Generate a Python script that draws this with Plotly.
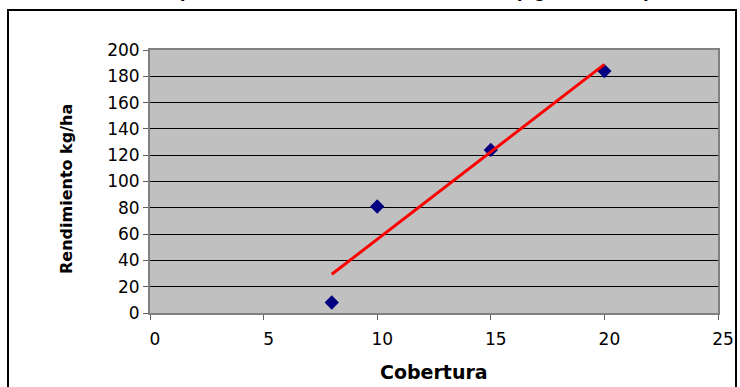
import numpy as np
import plotly.graph_objects as go

# Cobertura (x) y rendimiento en kg/ha (y)
cobertura = [8, 10, 15, 20]
rendimiento = [8, 81, 124, 184]

x_ticks = [0, 5, 10, 15, 20, 25]
y_ticks = [0, 20, 40, 60, 80, 100, 120, 140, 160, 180, 200]

# linear trend over the observed range
slope, intercept = np.polyfit(cobertura, rendimiento, 1)
trend_x = [min(cobertura), max(cobertura)]
trend_y = [slope * v + intercept for v in trend_x]

W, H = 740, 387
L, R, T, B = 150, 22, 50, 74
pw, ph = W - L - R, H - T - B


def px_to_paper_x(px):
    return (px - L) / pw


def px_to_paper_y(py):
    return (H - B - py) / ph


fig = go.Figure()
fig.add_trace(go.Scatter(
    x=cobertura, y=rendimiento, mode="markers",
    marker=dict(symbol="diamond", size=11, color="#000080"),
    showlegend=False, cliponaxis=False,
))
fig.add_trace(go.Scatter(
    x=trend_x, y=trend_y, mode="lines",
    line=dict(color="#ff0000", width=3),
    showlegend=False,
))

tick_font = dict(family="DejaVu Sans", size=17, color="black")

fig.update_xaxes(
    range=[0, 25], tickvals=x_ticks, ticktext=[str(v) for v in x_ticks],
    showgrid=False, zeroline=False, automargin=False,
    showline=True, linecolor="#808080", linewidth=2, mirror=True,
    ticks="outside", ticklen=5, tickcolor="#606060", tickwidth=1,
    tickfont=tick_font, ticklabelshift=5, ticklabelstandoff=5,
)
fig.update_yaxes(
    range=[0, 200], tickvals=y_ticks, ticktext=[str(v) for v in y_ticks],
    showgrid=True, gridcolor="black", gridwidth=1, zeroline=False,
    automargin=False,
    showline=True, linecolor="#808080", linewidth=2, mirror=True,
    ticks="outside", ticklen=5, tickcolor="#606060", tickwidth=1,
    tickfont=tick_font,
)

# outer chart border
fig.add_shape(
    type="rect", xref="paper", yref="paper",
    x0=px_to_paper_x(8), x1=px_to_paper_x(736),
    y0=px_to_paper_y(400), y1=px_to_paper_y(10),
    line=dict(color="black", width=2), fillcolor="rgba(0,0,0,0)",
    layer="below",
)

annotations = [
    dict(text="<b>Cobertura</b>", xref="paper", yref="paper",
         x=px_to_paper_x(434), y=px_to_paper_y(372),
         xanchor="center", yanchor="middle", showarrow=False,
         font=dict(family="DejaVu Sans", size=19, color="black")),
    dict(text="<b>Rendimiento kg/ha</b>", xref="paper", yref="paper",
         x=px_to_paper_x(66), y=px_to_paper_y(189),
         xanchor="center", yanchor="middle", textangle=-90, showarrow=False,
         font=dict(family="DejaVu Sans", size=16, color="black")),
    dict(text="<b>Comparación cobertura - rendimiento (kg/ha de MS)</b>",
         xref="paper", yref="paper",
         x=px_to_paper_x(392), y=px_to_paper_y(3),
         xanchor="center", yanchor="bottom", showarrow=False,
         font=dict(family="Liberation Sans", size=21, color="black")),
]

fig.update_layout(
    width=W, height=H,
    margin=dict(l=L, r=R, t=T, b=B, pad=0, autoexpand=False),
    paper_bgcolor="white", plot_bgcolor="#c0c0c0",
    annotations=annotations,
)

fig.write_html("out.html", config={"displayModeBar": False})
